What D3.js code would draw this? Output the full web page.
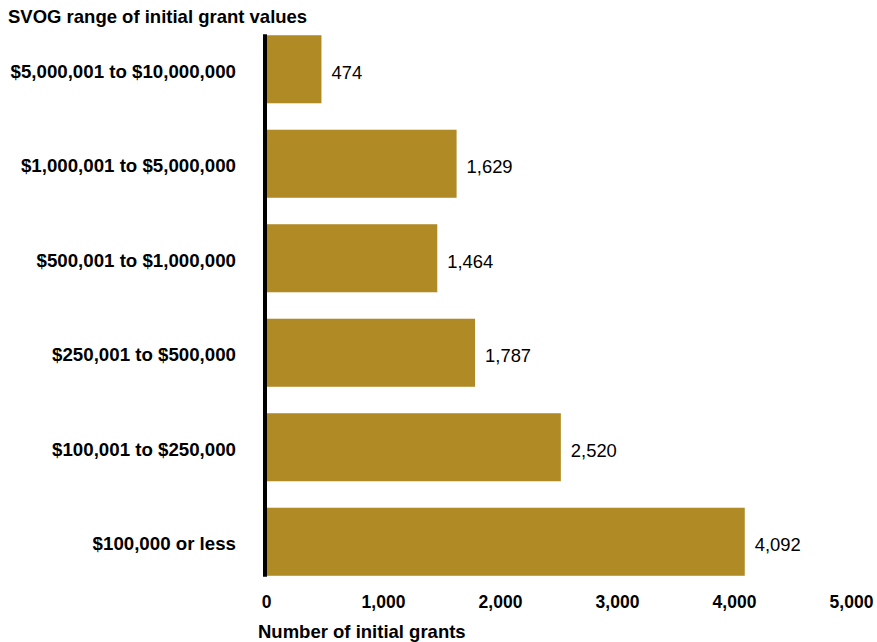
<!DOCTYPE html>
<html>
<head>
<meta charset="utf-8">
<script src="https://cdn.jsdelivr.net/npm/d3@7"></script>
<style>
  html, body { margin: 0; padding: 0; background: #fff; }
  svg { display: block; font-family: "Liberation Sans", Arial, sans-serif; }
</style>
</head>
<body>
<svg id="chart" width="877" height="642"></svg>
<script>
const categories = [
  "$5,000,001 to $10,000,000",
  "$1,000,001 to $5,000,000",
  "$500,001 to $1,000,000",
  "$250,001 to $500,000",
  "$100,001 to $250,000",
  "$100,000 or less"
];
const values = [474, 1629, 1464, 1787, 2520, 4092];
const xTicks = [0, 1000, 2000, 3000, 4000, 5000];
const title = "SVOG range of initial grant values";
const xTitle = "Number of initial grants";

const svg = d3.select("#chart");
const x0 = 266;
const x = d3.scaleLinear().domain([0, 5000]).range([x0, x0 + 585]);
const y = d3.scaleBand().domain(categories).range([22, 589]).paddingInner(0.28).paddingOuter(0.14);
const fmt = d3.format(",");

svg.append("text").attr("x", 8).attr("y", 23)
  .attr("font-size", 18.5).attr("font-weight", "bold").attr("fill", "#000")
  .text(title);

svg.selectAll("rect.bar").data(values).join("rect")
  .attr("class", "bar")
  .attr("x", x(0))
  .attr("y", (d, i) => y(categories[i]))
  .attr("width", d => x(d) - x(0))
  .attr("height", y.bandwidth())
  .attr("fill", "#B08A25");

svg.selectAll("text.val").data(values).join("text")
  .attr("class", "val")
  .attr("x", d => x(d) + 10)
  .attr("y", (d, i) => y(categories[i]) + y.bandwidth() / 2 + 3)
  .attr("dy", "0.35em")
  .attr("font-size", 18.4).attr("fill", "#000")
  .text(d => fmt(d));

// Category axis
const yAxis = svg.append("g").attr("transform", `translate(${x0 - 1},2)`)
  .call(d3.axisLeft(y).tickSize(0).tickPadding(29));
yAxis.select(".domain").remove();
yAxis.selectAll("text").attr("font-size", 18.7).attr("font-weight", "bold")
  .attr("fill", "#000").attr("font-family", "Liberation Sans, Arial, sans-serif")
  .attr("dy", "0.35em");

// vertical axis line
svg.append("line")
  .attr("x1", x0 - 1).attr("x2", x0 - 1)
  .attr("y1", y(categories[0]) - 1)
  .attr("y2", y(categories[categories.length - 1]) + y.bandwidth() + 1)
  .attr("stroke", "#000").attr("stroke-width", 4);

// x axis
const xAxis = svg.append("g").attr("transform", "translate(0,586)")
  .call(d3.axisBottom(x).tickValues(xTicks).tickFormat(fmt).tickSize(0).tickPadding(10));
xAxis.select(".domain").remove();
xAxis.selectAll("text").attr("font-size", 17.5).attr("font-weight", "bold")
  .attr("fill", "#000").attr("font-family", "Liberation Sans, Arial, sans-serif");

svg.append("text").attr("x", 258).attr("y", 638)
  .attr("font-size", 18.5).attr("font-weight", "bold").attr("fill", "#000")
  .text(xTitle);
</script>
</body>
</html>
